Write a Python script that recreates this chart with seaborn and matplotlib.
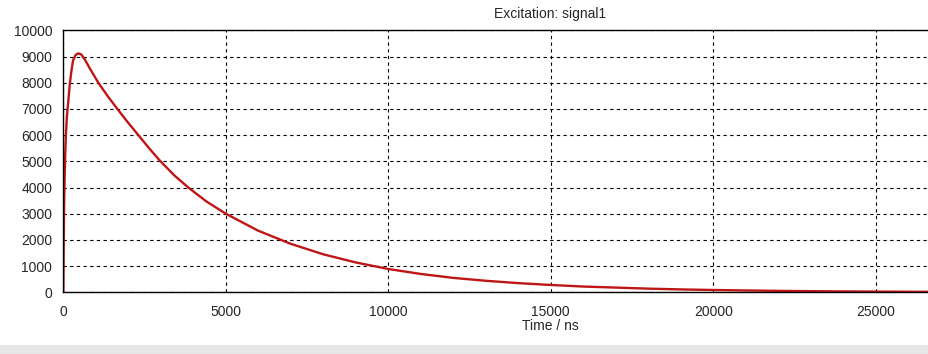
import numpy as np
import pandas as pd
import seaborn as sns
import matplotlib.pyplot as plt
from matplotlib.patches import Rectangle

# excitation pulse
time_ns = [0, 10, 20, 30, 45, 60, 80, 110, 140, 200, 250, 300, 380, 460, 550, 670, 800,
           1077, 1370, 1662, 1985, 2308, 2640, 2975, 3410, 3846, 4400, 5000, 6000, 7000,
           8000, 9000, 10000, 11000, 12000, 13000, 14000, 15000, 16000, 17000, 18000,
           19000, 20000, 21000, 22000, 23000, 24000, 25000, 26640]
signal = [0, 1500, 2800, 3700, 4600, 5300, 6000, 6700, 7100, 7950, 8450, 8850, 9060, 9120,
          9080, 8870, 8580, 8000, 7480, 7000, 6490, 6000, 5500, 5020, 4470, 4000, 3470,
          3000, 2350, 1850, 1450, 1140, 890, 700, 550, 440, 350, 280, 220, 180, 140, 110,
          88, 70, 55, 43, 34, 27, 18]
xticks = [0, 5000, 10000, 15000, 20000, 25000]
yticks = list(range(0, 10001, 1000))

df = pd.DataFrame({'t': time_ns, 'v': signal})

sns.set_style('white')
plt.rcParams['font.family'] = ['Liberation Sans', 'DejaVu Sans']
plt.rcParams['font.size'] = 10

fig = plt.figure(figsize=(9.29, 3.54), dpi=100)
ax = fig.add_axes([63.3/929, 1-292.3/354, 1-63.3/929, (292.3-30.3)/354])

sns.lineplot(data=df, x='t', y='v', ax=ax, color='#bf1515', linewidth=1.7)

ax.set_xlim(0, 26640)
ax.set_ylim(0, 10000)
ax.set_xticks(xticks)
ax.set_yticks(yticks)
ax.set_xlabel('')
ax.set_ylabel('')
ax.grid(True, color='black', linestyle=(0, (3, 3)), linewidth=0.8)
ax.tick_params(direction='out', length=3, width=0.8, color='black', labelsize=10)
ax.tick_params(axis='x', pad=6)
ax.tick_params(axis='y', pad=5)
for s in ['left', 'bottom', 'top']:
    ax.spines[s].set_color('black')
    ax.spines[s].set_linewidth(1)
ax.spines['right'].set_visible(False)

fig.text(550/929, 1-14/354, 'Excitation: signal1', ha='center', va='center', fontsize=10)
fig.text(550/929, 1-326/354, 'Time / ns', ha='center', va='center', fontsize=10)

# grey strip at the very bottom of the screenshot
fig.patches.append(Rectangle((0, 0), 1, 9/354, transform=fig.transFigure,
                             facecolor='#e6e6e6', edgecolor='none'))

fig.savefig('out.png', dpi=100)
